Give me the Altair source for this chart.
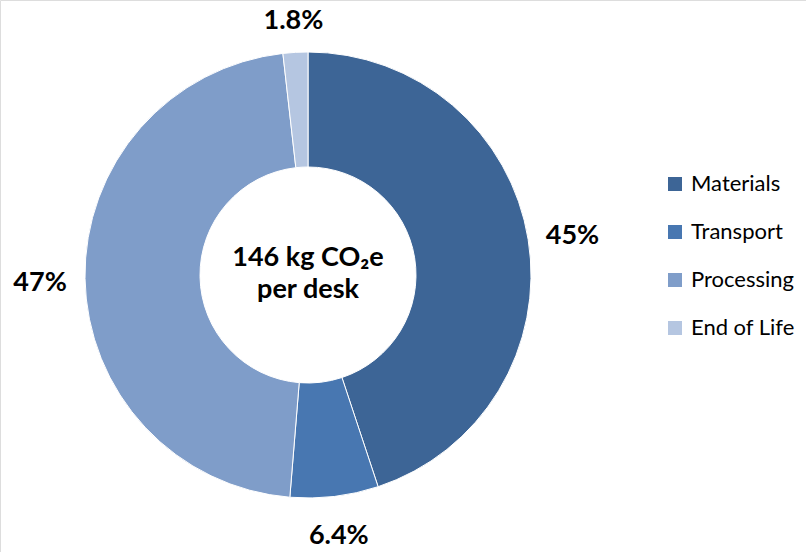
import altair as alt
import pandas as pd

categories = ["Materials", "Transport", "Processing", "End of Life"]
values = [45, 6.4, 47, 1.8]
labels = ["45%", "6.4%", "47%", "1.8%"]
colors = ["#3D6596", "#4877B1", "#7F9DC9", "#B5C6E1"]
center_text = ["146 kg CO\u2082e", "per desk"]

df = pd.DataFrame({
    "category": categories,
    "value": values,
    "label": labels,
    "order": list(range(len(categories))),
})

CX, CY = 308, 275

arcs = alt.Chart(df).mark_arc(
    outerRadius=223, innerRadius=108, stroke="white", strokeWidth=1
).encode(
    theta=alt.Theta("value:Q", stack=True),
    order=alt.Order("order:Q"),
    x=alt.value(CX),
    y=alt.value(CY),
    color=alt.Color(
        "category:N",
        scale=alt.Scale(domain=categories, range=colors),
        sort=categories,
        legend=alt.Legend(
            title=None,
            orient="none",
            legendX=664,
            legendY=173,
            symbolType="square",
            symbolSize=196,
            symbolStrokeWidth=0,
            labelFontSize=22,
            labelFont="Lato",
            labelColor="#000000",
            labelOffset=5,
            rowPadding=26,
            padding=0,
        ),
    ),
)

# label angle at the middle of each slice; radius a bit further out beside the ring
texts = alt.Chart(df).transform_joinaggregate(
    total="sum(value)"
).transform_window(
    cum="sum(value)", sort=[alt.SortField("order")]
).transform_calculate(
    mid="(datum.cum - datum.value / 2) / datum.total * 2 * PI",
    r="258 + 10 * abs(sin(datum.mid))",
).mark_text(
    font="Lato", fontSize=27, fontWeight="bold", color="#000000",
    align="center", baseline="middle", dy=4,
).encode(
    x=alt.value(CX),
    y=alt.value(CY),
    theta=alt.Theta("mid:Q", scale=None, stack=None),
    radius=alt.Radius("r:Q", scale=None, stack=None),
    text="label:N",
)

center = alt.Chart(pd.DataFrame({"t": [0]})).mark_text(
    font="Lato", fontSize=27, fontWeight="bold", color="#000000",
    align="center", baseline="middle", lineHeight=32,
).encode(
    x=alt.value(CX),
    y=alt.value(CY - 17),
    text=alt.value(center_text),
)

chart = alt.layer(arcs, texts, center).properties(
    width=806, height=552, padding=0,
    autosize=alt.AutoSizeParams(type="none"),
).configure_view(strokeWidth=0).configure(background="white")

chart.save("out.html", embed_options={"renderer": "svg", "actions": False})
